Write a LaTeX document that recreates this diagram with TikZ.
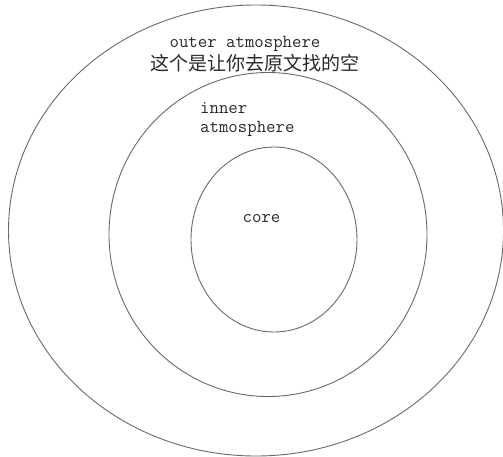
\documentclass[tikz,border=0pt]{standalone}
\usepackage{fontspec}
\newfontfamily\cjk{Noto Sans CJK SC}
\usetikzlibrary{positioning}
\definecolor{ringG}{RGB}{105,105,105}
\definecolor{labelK}{RGB}{40,40,40}

\begin{document}
\begin{tikzpicture}[x=1pt, y=-1pt,
    font=\ttfamily\fontsize{18.3}{19}\selectfont, text=labelK,
    ring/.style={draw=ringG, line width=0.9pt}]
  \useasboundingbox (0,0) rectangle (503,457);
  % layers, outside in
  \draw[ring] (256,230.5) ellipse [x radius=247.5, y radius=225.5];
  \draw[ring] (268,234.5) ellipse [x radius=159, y radius=162];
  \draw[ring] (274,239.5) ellipse [x radius=83, y radius=92.5];
  % labels
  \node[inner sep=0pt] (outer) at (245,44) {outer atmosphere};
  \node[inner sep=0pt, font=\cjk\fontsize{19}{21}\selectfont] (blank) at (254.5,63) {这个是让你去原文找的空};
  \node[inner sep=0pt, anchor=west, align=left] (inner) at (200,120) {inner\\atmosphere};
  \node[inner sep=0pt] (core) at (261.5,219) {core};
\end{tikzpicture}
\end{document}
